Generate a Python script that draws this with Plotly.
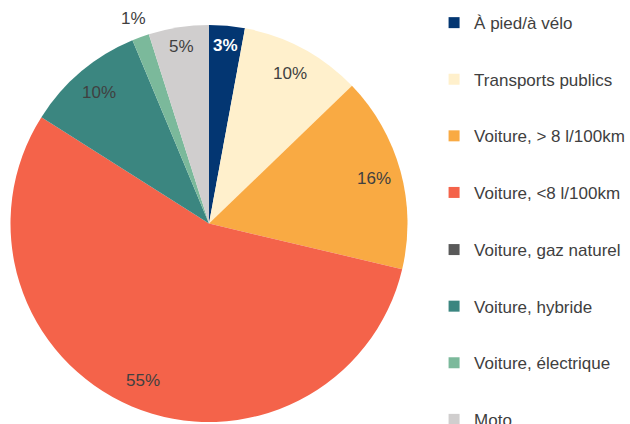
import math
import plotly.graph_objects as go

categories = ["À pied/à vélo", "Transports publics", "Voiture, > 8 l/100km",
              "Voiture, <8 l/100km", "Voiture, gaz naturel", "Voiture, hybride",
              "Voiture, électrique", "Moto"]
values = [2.9, 9.9, 15.9, 55.3, 0.0, 9.7, 1.4, 4.9]
colors = ["#033672", "#FFF0CC", "#F9AA43", "#F4634A", "#595959", "#3B8680", "#7BB99B", "#D0CECE"]

W, H = 630, 424
cx, cy, R = 209, 223.5, 198.5  # pie centre (px from left/top) and radius
FONT = "Liberation Sans, Arial"

fig = go.Figure()
fig.add_trace(go.Pie(
    labels=categories, values=values, sort=False, direction="clockwise", rotation=0,
    marker=dict(colors=colors, line=dict(width=0)), textinfo="none", showlegend=False,
    hoverinfo="label+percent",
    domain=dict(x=[(cx - R) / W, (cx + R) / W], y=[(H - cy - R) / H, (H - cy + R) / H]),
))

# legend entries (separate groups so the spacing can match), split over two legends
for i, (c, col) in enumerate(zip(categories, colors)):
    fig.add_trace(go.Scatter(x=[None], y=[None], mode="markers", name=c,
                             legendgroup=f"g{i}",
                             legend="legend" if i < 4 else "legend2",
                             marker=dict(symbol="square", size=11, color=col)))

# percentage labels computed from the data
total = sum(values)
cum = 0.0
for i, v in enumerate(values):
    mid = (cum + v / 2) / total
    cum += v
    if v == 0:
        continue
    th = 2 * math.pi * mid
    frac = v / total
    if frac < 0.02:
        r = 1.1 * R
    elif frac < 0.06:
        r = 0.9 * R
    else:
        r = 0.86 * R
    xp = cx + r * math.sin(th)
    yp = cy - r * math.cos(th)
    white = i == 0
    fig.add_annotation(x=xp / W, y=1 - yp / H, xref="paper", yref="paper",
                       xanchor="center", yanchor="middle",
                       text=(f"<b>{round(v)}%</b>" if white else f"{round(v)}%"),
                       showarrow=False,
                       font=dict(family=FONT, size=17,
                                 color="#FFFFFF" if white else "#404040"))

leg = dict(x=0.689, xanchor="left", yanchor="top", tracegroupgap=31.5,
           maxheight=2000,
           font=dict(family=FONT, size=17, color="#404040"),
           bgcolor="rgba(0,0,0,0)", itemclick=False)
fig.update_layout(
    width=W, height=H, margin=dict(l=0, r=0, t=0, b=0, autoexpand=False),
    paper_bgcolor="white", plot_bgcolor="white",
    xaxis=dict(visible=False), yaxis=dict(visible=False),
    legend=dict(y=0.988, **leg),
    legend2=dict(y=0.4528, **leg),
)

fig.write_html("out.html", config={"displayModeBar": False},
               post_script="document.body.style.margin='0';")
